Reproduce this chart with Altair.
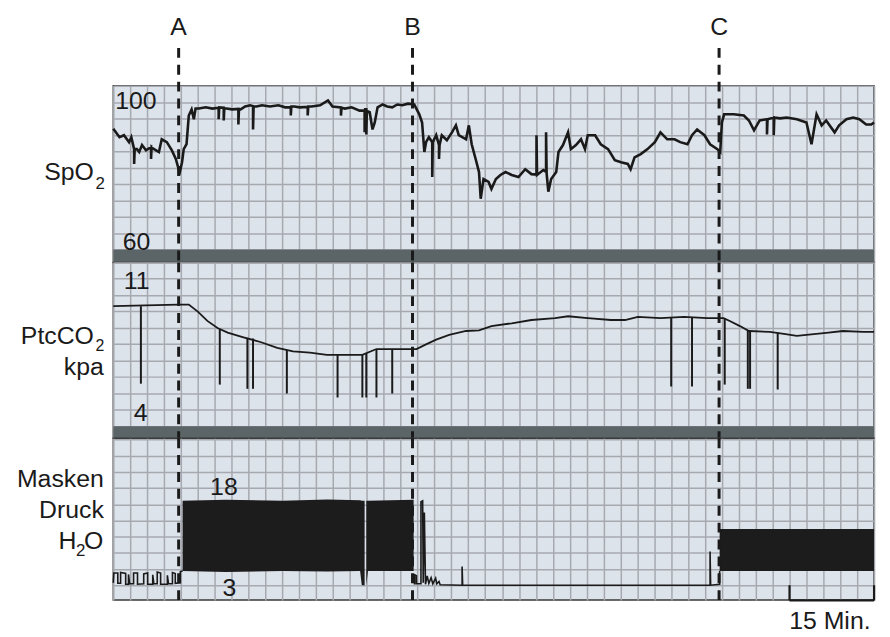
import altair as alt
import pandas as pd

FONT = "Liberation Sans, Arial, Helvetica, sans-serif"
INK = "#1a1a1a"
GRID = "#a6a9b0"
BAND = "#5b6466"

W = 766
H1, H2, H3 = 178, 177, 163

# ---------------- data ----------------
events = ["A", "B", "C"]
event_t = [11.6, 53.1, 107.5]          # minutes

# SpO2 trace (minutes, %)
spo2 = [
    (0.0, 89.5), (0.2, 89.1), (1.1, 87.4), (1.9, 87.9), (2.8, 86.2), (3.2, 87.4), (3.7, 84.5), (3.7, 80.9),
    (3.8, 84.5), (4.2, 84.5), (4.6, 83.8), (5.1, 85.5), (5.8, 84.2), (6.7, 85.0), (6.7, 82.1), (6.8, 85.0),
    (7.0, 84.7), (7.6, 84.2), (8.1, 83.8), (8.6, 86.9), (9.5, 86.2), (10.4, 84.2), (11.1, 82.1), (11.6, 79.6),
    (11.7, 78.2), (12.2, 81.3), (12.5, 84.5), (13.0, 85.7), (13.4, 92.7), (13.9, 94.2), (14.3, 91.8), (14.6, 94.4),
    (15.2, 94.4), (16.4, 94.7), (17.6, 94.4), (18.7, 94.6), (18.7, 91.8), (18.8, 94.7), (19.6, 94.6), (19.6, 91.5),
    (19.7, 94.4), (20.1, 94.4), (21.1, 94.2), (22.2, 94.3), (22.2, 90.5), (22.3, 94.2), (22.6, 94.2), (23.4, 94.9),
    (24.3, 95.2), (24.8, 95.0), (24.8, 89.3), (24.9, 94.9), (25.4, 94.9), (26.4, 95.2), (27.8, 94.9), (29.3, 95.2),
    (30.5, 94.7), (31.5, 94.7), (31.5, 92.7), (31.6, 94.9), (32.1, 94.9), (33.1, 94.7), (34.5, 94.8), (34.5, 92.7),
    (34.6, 94.9), (35.2, 94.9), (36.7, 95.2), (38.1, 96.4), (38.9, 94.9), (40.4, 94.7), (40.4, 92.7), (40.5, 94.6),
    (41.1, 94.4), (42.3, 94.7), (43.7, 93.9), (44.6, 93.9), (44.6, 88.6), (44.7, 94.2), (44.9, 94.2), (44.9, 88.1),
    (45.0, 93.8), (45.5, 93.5), (46.0, 89.3), (46.4, 91.0), (46.9, 94.7), (47.8, 95.4), (48.6, 94.9), (49.5, 94.7),
    (50.4, 95.4), (51.3, 95.2), (52.3, 95.6), (53.4, 95.4), (54.3, 93.0), (54.8, 91.0), (55.2, 83.8), (55.5, 86.2),
    (56.0, 87.4), (56.6, 86.2), (56.6, 77.7), (56.7, 86.2), (57.3, 87.9), (57.8, 85.5), (57.8, 82.1), (57.9, 85.5),
    (58.3, 87.9), (59.2, 86.7), (60.1, 88.6), (60.8, 90.3), (61.3, 87.9), (62.6, 86.9), (63.1, 90.3), (63.6, 85.7),
    (64.3, 82.1), (64.9, 78.9), (65.2, 72.4), (65.7, 77.2), (66.6, 76.5), (67.1, 74.8), (67.9, 77.2), (68.7, 78.2),
    (69.6, 78.9), (70.7, 78.2), (71.9, 77.7), (73.1, 79.6), (74.2, 78.4), (75.1, 78.3), (75.1, 87.9), (75.2, 78.2),
    (76.3, 79.4), (76.8, 79.0), (76.8, 88.6), (76.9, 78.5), (77.2, 74.1), (77.7, 77.2), (78.6, 78.9), (79.0, 83.8),
    (79.8, 85.5), (80.7, 88.6), (81.2, 84.5), (82.1, 85.5), (83.0, 86.9), (83.7, 84.5), (84.2, 87.9), (85.5, 87.9),
    (86.5, 85.7), (87.8, 84.5), (89.0, 81.8), (90.1, 81.3), (91.3, 80.9), (91.8, 79.6), (92.5, 82.5), (93.6, 83.3),
    (94.8, 84.5), (96.1, 86.2), (97.1, 88.6), (98.3, 86.9), (99.6, 86.9), (100.6, 86.2), (101.9, 85.7), (102.7, 87.9),
    (103.6, 89.3), (104.9, 87.9), (105.9, 85.7), (107.2, 84.5), (107.7, 83.8), (108.0, 91.0), (108.4, 93.0),
    (110.1, 93.0), (111.9, 92.7), (112.8, 91.5), (113.7, 89.1), (114.7, 91.5), (116.0, 91.8), (116.0, 88.1),
    (116.1, 91.8), (117.2, 92.2), (117.2, 87.9), (117.3, 92.2), (118.3, 92.0), (119.5, 92.2), (121.3, 91.8),
    (123.0, 91.0), (123.9, 85.7), (124.8, 93.0), (125.7, 90.3), (126.5, 91.5), (128.0, 88.6), (128.8, 90.3),
    (130.1, 91.8), (131.3, 92.2), (132.4, 91.8), (133.6, 90.5), (134.5, 90.5), (135.0, 91.0),
]

# PtcCO2 trace (minutes, kPa)
ptc = [
    (0.0, 9.13), (11.5, 9.2), (13.4, 9.2), (15.0, 8.9), (16.7, 8.5), (18.5, 8.2), (20.3, 8.0), (23.1, 7.8),
    (26.1, 7.6), (29.1, 7.35), (31.9, 7.2), (34.9, 7.15), (37.9, 7.05), (44.2, 7.05), (46.7, 7.3), (50.8, 7.3),
    (53.8, 7.3), (55.5, 7.5), (57.3, 7.7), (59.6, 7.9), (62.6, 8.07), (64.9, 8.1), (67.1, 8.28), (70.7, 8.4),
    (74.2, 8.54), (78.4, 8.62), (80.7, 8.7), (84.2, 8.62), (88.3, 8.54), (90.8, 8.54), (93.1, 8.67), (97.1, 8.62),
    (101.3, 8.67), (105.4, 8.62), (108.3, 8.62), (109.4, 8.5), (111.2, 8.28), (112.8, 8.07), (116.5, 8.03),
    (119.0, 7.95), (121.3, 7.86), (123.0, 7.9), (126.5, 7.99), (129.5, 8.07), (133.1, 8.03), (135.0, 8.03),
]
ptc_spike_t = [4.9, 18.9, 23.8, 24.8, 30.8, 39.8, 44.2, 44.9, 46.7, 49.5, 99.0, 102.7, 108.5, 112.6, 113.0, 117.9]
ptc_spike_top = [9.13, 8.15, 7.78, 7.75, 7.25, 7.05, 7.05, 7.1, 7.3, 7.3, 8.65, 8.65, 8.6, 8.1, 8.07, 8.0]
ptc_spike_low = [5.82, 5.78, 5.6, 5.6, 5.4, 5.23, 5.23, 5.23, 5.23, 5.4, 5.7, 5.7, 5.78, 5.6, 5.6, 5.57]

# Mask pressure, single trace before A (minutes, cmH2O)
druck_pre = [
    (0.0, 0.5), (0.1, 2.6), (0.8, 2.6), (0.8, 0.4), (1.3, 0.4), (1.3, 2.7), (2.2, 2.5), (2.2, 0.2), (2.7, 0.2),
    (2.7, 2.3), (2.9, 0.3), (3.6, 0.3), (3.6, 2.6), (4.3, 2.6), (4.3, 0.2), (5.4, 0.3), (5.4, 2.4), (6.1, 2.6),
    (6.1, 0.2), (7.0, 0.2), (7.0, 2.2), (7.2, 0.3), (7.8, 0.3), (7.8, 2.8), (8.4, 2.6), (8.4, 0.2), (9.6, 0.2),
    (9.6, 2.1), (9.8, 0.3), (10.5, 0.3), (10.5, 2.7), (11.0, 2.5), (11.0, 0.4), (11.9, 0.5), (11.9, 2.9),
    (12.3, 3.0),
]
# Mask pressure, single trace between B and C (minutes, cmH2O)
druck_post = [
    (53.3, 0.3), (53.5, 0.3), (53.5, 2.2), (53.8, 2.0), (53.8, 0.3), (54.6, 0.3), (54.6, 17.8), (54.9, 18.0),
    (55.0, 0.5), (55.2, 15.5), (55.4, 0.2), (55.7, 2.0), (56.0, 0.4), (56.4, 1.6), (56.7, 0.3), (57.2, 1.5),
    (57.4, 0.3), (57.8, 0.8), (58.0, 0.1), (61.9, 0.0), (61.9, 4.0), (62.0, 0.0), (105.9, 0.0), (105.9, 7.2),
    (106.0, 0.0), (107.6, 0.2), (107.6, 3.0),
]
# Ventilation blocks: (segment, minutes, EPAP edge, IPAP edge)
druck_blocks = [
    ("a", 12.3, 3.0, 18.0), ("a", 20.0, 2.8, 18.2), ("a", 30.0, 3.0, 18.0), ("a", 38.0, 2.9, 18.3),
    ("a", 43.8, 3.0, 18.1), ("a", 44.1, 0.0, 18.0), ("a", 44.6, 0.0, 18.0),
    ("b", 44.9, 0.0, 18.0), ("b", 45.2, 3.0, 18.0), ("b", 53.3, 3.0, 18.2),
    ("c", 107.6, 3.0, 12.0), ("c", 135.0, 3.0, 12.0),
]
scale_bar = [120, 135]   # 15 min

# ---------------- scales ----------------
T_DOMAIN = [0, 135]
SPO2_DOMAIN = [56.85, 100]
PTC_DOMAIN = [3.49, 11]
DRUCK_DOMAIN = [-3.18, 31.35]

grid_t = list(range(0, 136, 3))
grid_spo2 = list(range(60, 101, 4))
grid_ptc = [round(4 + 0.7 * k, 2) for k in range(11)]
grid_druck = [round(3.45 * k, 2) for k in range(10)]


def xenc(field="t"):
    return alt.X(f"{field}:Q", scale=alt.Scale(domain=T_DOMAIN, nice=False, zero=False),
                 axis=alt.Axis(values=grid_t, labels=False, ticks=False, domain=False, title=None,
                               grid=True, gridColor=GRID, gridWidth=1.5, gridOpacity=1))


def yenc(field, domain, grid_vals):
    return alt.Y(f"{field}:Q", scale=alt.Scale(domain=domain, nice=False, zero=False),
                 axis=alt.Axis(values=grid_vals, labels=False, ticks=False, domain=False, title=None,
                               grid=True, gridColor=GRID, gridWidth=1.5, gridOpacity=1))


def txt(label, x, y, size=25, align="left"):
    return alt.Chart(alt.Data(values=[{}])).mark_text(
        text=label, align=align, baseline="alphabetic", fontSize=size, font=FONT, color=INK
    ).encode(x=alt.value(x), y=alt.value(y))


ev_df = pd.DataFrame({"t": event_t, "label": events})


def event_rules(y0, y1):
    return alt.Chart(ev_df).mark_rule(color=INK, strokeWidth=3, strokeDash=[10, 7]).encode(
        x=xenc(), y=alt.value(y0), y2=alt.value(y1))


def band(domain, top):
    return pd.DataFrame({"t": [T_DOMAIN[0]], "t1": [T_DOMAIN[1]], "lo": [domain[0]], "hi": [top]})


# ---------------- panel 1: SpO2 ----------------
spo2_df = pd.DataFrame(spo2, columns=["t", "v"]).reset_index().rename(columns={"index": "i"})
b1 = alt.Chart(band(SPO2_DOMAIN, 60)).mark_rect(color=BAND).encode(
    x=xenc(), x2="t1:Q", y=yenc("lo", SPO2_DOMAIN, grid_spo2), y2="hi:Q")
l1 = alt.Chart(spo2_df).mark_line(color=INK, strokeWidth=2.6).encode(
    x=xenc(), y=yenc("v", SPO2_DOMAIN, grid_spo2), order="i:Q")
letters = alt.Chart(ev_df).mark_text(fontSize=25, font=FONT, color=INK, baseline="alphabetic").encode(
    x=xenc(), y=alt.value(-51), text="label:N")
p1 = alt.layer(
    b1, l1, event_rules(-38, H1), letters,
    txt("100", 2, 24), txt("60", 9.5, 165),
    txt("SpO", -19.5, 95, align="right"), txt("2", -18, 104, size=17),
).properties(width=W, height=H1)

# ---------------- panel 2: PtcCO2 ----------------
ptc_df = pd.DataFrame(ptc, columns=["t", "v"])
spike_df = pd.DataFrame({"t": ptc_spike_t, "top": ptc_spike_top, "low": ptc_spike_low})
b2 = alt.Chart(band(PTC_DOMAIN, 4)).mark_rect(color=BAND).encode(
    x=xenc(), x2="t1:Q", y=yenc("lo", PTC_DOMAIN, grid_ptc), y2="hi:Q")
l2 = alt.Chart(ptc_df).mark_line(color=INK, strokeWidth=1.8).encode(
    x=xenc(), y=yenc("v", PTC_DOMAIN, grid_ptc))
s2 = alt.Chart(spike_df).mark_rule(color=INK, strokeWidth=2).encode(
    x=xenc(), y=yenc("top", PTC_DOMAIN, grid_ptc), y2="low:Q")
p2 = alt.layer(
    b2, s2, l2, event_rules(0, H2),
    txt("11", 10.5, 27), txt("4", 20.5, 160),
    txt("PtcCO", -19.5, 82, align="right"), txt("2", -18, 89, size=16),
    txt("kpa", -9.5, 113, align="right"),
).properties(width=W, height=H2)

# ---------------- panel 3: mask pressure ----------------
dl_df = pd.concat([
    pd.DataFrame(druck_pre, columns=["t", "v"]).assign(seg="pre"),
    pd.DataFrame(druck_post, columns=["t", "v"]).assign(seg="post"),
]).reset_index(drop=True).reset_index().rename(columns={"index": "i"})
blk_df = pd.DataFrame(druck_blocks, columns=["seg", "t", "lo", "hi"])
bar_df = pd.DataFrame({"t": [scale_bar[0], scale_bar[0], scale_bar[1]],
                       "t1": [scale_bar[1], scale_bar[0], scale_bar[1]],
                       "p": [-3.25, 0.0, 0.0], "p2": [-3.25, -3.25, -3.25]})
a3 = alt.Chart(blk_df).mark_area(color="#1c1c1c", opacity=1).encode(
    x=xenc(), y=yenc("hi", DRUCK_DOMAIN, grid_druck), y2="lo:Q", detail="seg:N")
l3 = alt.Chart(dl_df).mark_line(color=INK, strokeWidth=1.6).encode(
    x=xenc(), y=yenc("v", DRUCK_DOMAIN, grid_druck), detail="seg:N", order="i:Q")
sb = alt.Chart(bar_df).mark_rule(color=INK, strokeWidth=2.2).encode(
    x=xenc(), x2="t1:Q", y=yenc("p", DRUCK_DOMAIN, grid_druck), y2="p2:Q")
p3 = alt.layer(
    a3, l3, sb, event_rules(0, H3),
    txt("18", 97.5, 57), txt("3", 110, 159),
    txt("Masken", -9.5, 49, align="right"), txt("Druck", -9.5, 80, align="right"),
    txt("O", -10, 112, align="right"), txt("2", -28, 119, size=17, align="right"),
    txt("H", -37, 112, align="right"),
    txt("15 Min.", 762.5, 192, align="right"),
).properties(width=W, height=H3)

chart = alt.vconcat(p1, p2, p3, spacing=0, bounds="flush").properties(
    padding={"left": 8, "top": 4, "right": 2, "bottom": 0}
).configure_view(stroke="#3a3a3a", strokeWidth=1.5, fill="#dde3ea")

chart.save("out.html", embed_options={"renderer": "svg", "actions": False})
